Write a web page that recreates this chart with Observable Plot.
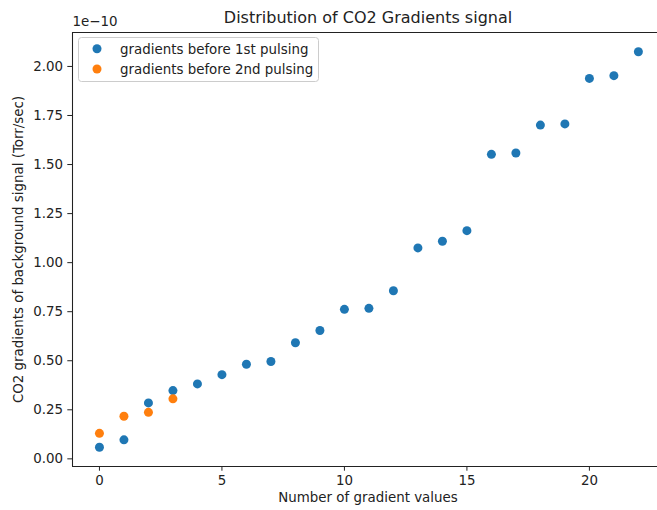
<!DOCTYPE html>
<html>
<head>
<meta charset="utf-8">
<script src="https://cdn.jsdelivr.net/npm/d3@7"></script>
<script src="https://cdn.jsdelivr.net/npm/@observablehq/plot@0.6"></script>
<style>
  html, body { margin: 0; padding: 0; background: #fff; overflow: hidden; }
  #chart svg { display: block; }
</style>
</head>
<body>
<div id="chart"></div>
<script>
// ---- data (y in units of 1e-10 Torr/sec) ----
const titleText = "Distribution of CO2 Gradients signal";
const xLabel = "Number of gradient values";
const yLabel = "CO2 gradients of background signal (Torr/sec)";
const offsetText = "1e\u221210";
const seriesNames = ["gradients before 1st pulsing", "gradients before 2nd pulsing"];
const seriesColors = ["#1f77b4", "#ff7f0e"];

const firstX = [0, 1, 2, 3, 4, 5, 6, 7, 8, 9, 10, 11, 12, 13, 14, 15, 16, 17, 18, 19, 20, 21, 22];
const firstY = [0.059, 0.097, 0.285, 0.348, 0.382, 0.429, 0.482, 0.496, 0.592, 0.654, 0.762, 0.767, 0.857,
                1.075, 1.109, 1.163, 1.552, 1.559, 1.701, 1.707, 1.939, 1.953, 2.075];
const secondX = [0, 1, 2, 3];
const secondY = [0.130, 0.217, 0.237, 0.306];

const xTicks = [0, 5, 10, 15, 20];
const yTicks = [0, 0.25, 0.5, 0.75, 1.0, 1.25, 1.5, 1.75, 2.0];
const xDomain = [-1.1, 22.78];
const yDomain = [-0.039, 2.173];

const pts = [
  ...firstX.map((x, i) => ({x, y: firstY[i], s: seriesNames[0]})),
  ...secondX.map((x, i) => ({x, y: secondY[i], s: seriesNames[1]}))
];

const FS = 13.4;
const plot = Plot.plot({
  width: 657,
  height: 510,
  marginLeft: 72,
  marginRight: 0,
  marginTop: 32,
  marginBottom: 44,
  style: {fontFamily: "'DejaVu Sans', sans-serif", fontSize: FS + "px", color: "#222", background: "#fff"},
  x: {domain: xDomain, ticks: xTicks, tickSize: 4.7, tickPadding: 4.7, tickFormat: d => String(d), label: null},
  y: {domain: yDomain, ticks: yTicks, tickSize: 4.7, tickPadding: 4.7, tickFormat: d => d.toFixed(2), label: null},
  color: {domain: seriesNames, range: seriesColors},
  marks: [
    Plot.ruleX([xDomain[0]], {stroke: "#222", strokeWidth: 1.07}),
    Plot.ruleY(yDomain, {stroke: "#222", strokeWidth: 1.07}),
    Plot.dot(pts, {x: "x", y: "y", fill: "s", r: 4.5, stroke: "none"}),
    Plot.text([titleText], {frameAnchor: "top", lineAnchor: "middle", dx: 3, dy: -15.1, fontSize: 16, fill: "#222"}),
    Plot.text([offsetText], {frameAnchor: "top-left", lineAnchor: "middle", textAnchor: "start", dy: -10.3, fill: "#222"}),
    Plot.text([xLabel], {frameAnchor: "bottom", lineAnchor: "middle", dx: 3, dy: 31.7, fill: "#222"}),
    Plot.text([yLabel], {frameAnchor: "left", lineAnchor: "middle", textAnchor: "middle", rotate: -90, dx: -54, fill: "#222"})
  ]
});
document.getElementById("chart").appendChild(plot);

// legend (matplotlib-style box, upper left)
const svg = d3.select(plot);
const lg = svg.append("g").attr("font-family", "'DejaVu Sans', sans-serif").attr("font-size", FS)
  .attr("text-anchor", "start");
lg.append("rect").attr("x", 78.5).attr("y", 37.5).attr("width", 240).attr("height", 44)
  .attr("rx", 3).attr("fill", "#fff").attr("fill-opacity", 0.8).attr("stroke", "#ccc").attr("stroke-width", 1);
seriesNames.forEach((name, i) => {
  const cy = 48.7 + i * 20.3;
  lg.append("circle").attr("cx", 97).attr("cy", cy).attr("r", 4.5).attr("fill", seriesColors[i]);
  lg.append("text").attr("x", 120).attr("y", cy + 4.8).attr("text-anchor", "start").attr("fill", "#222").text(name);
});
</script>
</body>
</html>
